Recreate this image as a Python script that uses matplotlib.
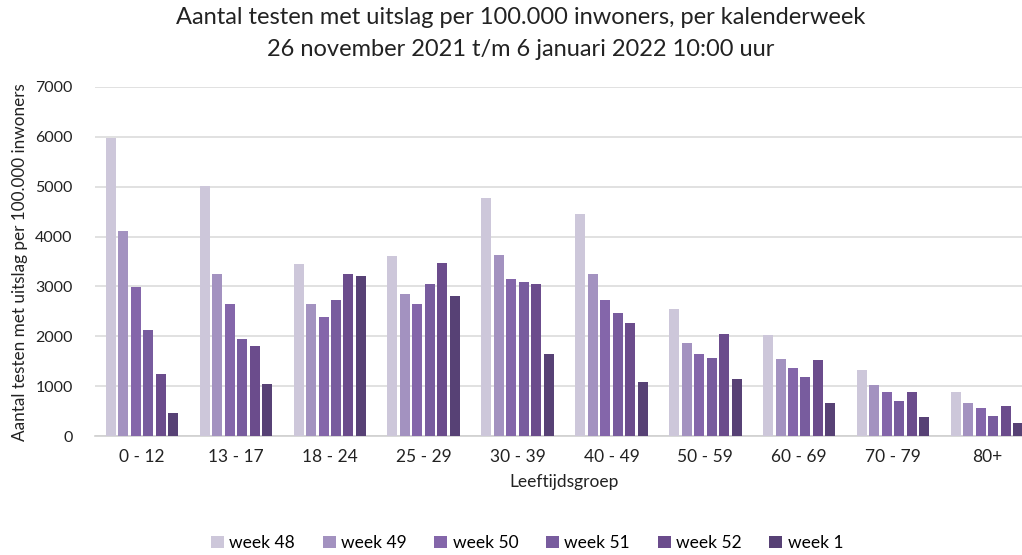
import matplotlib.pyplot as plt
import numpy as np

plt.rcParams['font.family'] = ['Lato', 'DejaVu Sans']

# leeftijdsgroepen en waarden per week
groepen = ["0 - 12", "13 - 17", "18 - 24", "25 - 29", "30 - 39",
           "40 - 49", "50 - 59", "60 - 69", "70 - 79", "80+"]
weken = ["week 48", "week 49", "week 50", "week 51", "week 52", "week 1"]

week48 = [5980, 5010, 3440, 3610, 4780, 4460, 2550, 2030, 1320, 880]
week49 = [4120, 3255, 2640, 2855, 3630, 3255, 1870, 1545, 1030, 670]
week50 = [2995, 2640, 2395, 2640, 3140, 2720, 1650, 1370, 875, 560]
week51 = [2125, 1950, 2730, 3040, 3095, 2460, 1570, 1185, 700, 410]
week52 = [1240, 1800, 3240, 3475, 3040, 2260, 2040, 1520, 890, 600]
week1 = [470, 1050, 3200, 2800, 1640, 1090, 1135, 670, 375, 255]

reeksen = [week48, week49, week50, week51, week52, week1]
kleuren = ["#cdc7da", "#a392c0", "#8466aa", "#785c9e", "#6b4c8c", "#574175"]

fig = plt.figure(figsize=(10.22, 5.55), dpi=100)
# axes loopt iets buiten de rechterrand, net als in het origineel
ax = fig.add_axes([95 / 1022, 1 - 436 / 555, 939 / 1022, 349 / 555])

x = np.arange(len(groepen))
stap = 0.1327
breedte = 0.1065
for i, (vals, kleur, naam) in enumerate(zip(reeksen, kleuren, weken)):
    ax.bar(x + (i - 2.5) * stap, vals, width=breedte, color=kleur, label=naam, zorder=3)

ax.set_xlim(-0.5, len(groepen) - 0.5)
ax.set_ylim(0, 7000)
ax.set_yticks(range(0, 7001, 1000))
ax.set_xticks(x)
ax.set_xticklabels(groepen, fontsize=12.5, color="#222222")
ax.tick_params(axis="y", labelsize=11.5, colors="#222222", length=0, pad=16)
ax.tick_params(axis="x", length=0, pad=9)
ax.grid(axis="y", color="#d9d9d9", linewidth=1.1, zorder=0)
for s in ["top", "right", "left"]:
    ax.spines[s].set_visible(False)
ax.spines["bottom"].set_color("#d0d0d0")
ax.spines["bottom"].set_linewidth(1.2)

ax.set_xlabel("Leeftijdsgroep", fontsize=12.5, color="#222222", labelpad=7)
fig.text(20 / 1022, 1 - 262 / 555, "Aantal testen met uitslag per 100.000 inwoners",
         rotation=90, ha="center", va="center", fontsize=12.3, color="#222222")

fig.text(521 / 1022, 1 - 18 / 555, "Aantal testen met uitslag per 100.000 inwoners, per kalenderweek",
         ha="center", va="center", fontsize=17, color="#222222")
fig.text(521 / 1022, 1 - 49 / 555, "26 november 2021 t/m 6 januari 2022 10:00 uur",
         ha="center", va="center", fontsize=17, color="#222222")

fig.legend(loc="center", bbox_to_anchor=(527 / 1022, 1 - 543 / 555), ncol=6,
           frameon=False, fontsize=12.5, handlelength=0.75, handleheight=0.75,
           handletextpad=0.3, columnspacing=1.6)

fig.savefig("out.png", dpi=100)
